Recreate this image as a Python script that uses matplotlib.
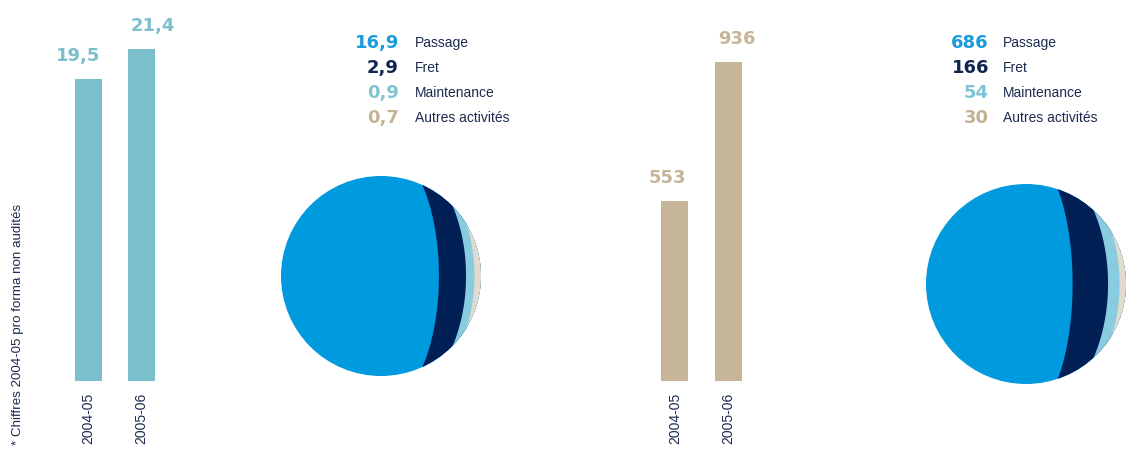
import matplotlib
matplotlib.use('Agg')
import matplotlib.pyplot as plt
import numpy as np
from matplotlib.patches import Circle, Polygon

# ---------------- data ----------------
periods_left = ['2004-05', '2005-06']
revenue = [19.5, 21.4]
periods_right = ['2004-05', '2005-06']
result = [553, 936]
segments = ['Passage', 'Fret', 'Maintenance', 'Autres activités']
revenue_split = [16.9, 2.9, 0.9, 0.7]
result_split = [686, 166, 54, 30]
footnote = '* Chiffres 2004-05 pro forma non audités'

# ---------------- style ----------------
W, H = 1127, 452
NAVY = '#1b2a4e'
TEAL = '#7bbfcc'
BEIGE = '#c6b598'
seg_text_colors = ['#1a9bdb', '#0f2550', '#7fc4d4', '#c4b295']
seg_pie_colors = ['#009bdf', '#001f54', '#8accdf', '#e3dace']
LABEL_FONT = ['Liberation Sans', 'DejaVu Sans']
NUM_FONT = ['DejaVu Sans']

fig = plt.figure(figsize=(W / 100, H / 100), dpi=100)


def ax_px(l, t, w, h):
    return fig.add_axes([l / W, 1 - (t + h) / H, w / W, h / H])


def fmt_dec(v):
    return f'{v:.1f}'.replace('.', ',')


def fmt_int(v):
    return f'{v:d}'


def bar_panel(rect, labels, values, color, ylim, fmt, offsets):
    ax = ax_px(*rect)
    x = np.arange(len(values))
    ax.bar(x, values, width=0.51, color=color)
    ax.set_xlim(-0.5, len(values) - 0.5)
    ax.set_ylim(*ylim)
    for s in ax.spines.values():
        s.set_visible(False)
    ax.set_yticks([])
    ax.set_xticks(x, labels)
    ax.tick_params(axis='x', length=0, pad=8, labelrotation=90,
                   labelsize=10, labelcolor=NAVY)
    for t in ax.get_xticklabels():
        t.set_fontfamily(LABEL_FONT)
    for xi, v, (dx, dy) in zip(x, values, offsets):
        ax.annotate(fmt(v), (xi, v), xytext=(dx * 0.72, dy * 0.72),
                    textcoords='offset points', ha='center', va='center',
                    fontsize=13, fontweight='bold', color=color,
                    family=NUM_FONT, annotation_clip=False)
    return ax


# left bars: baseline at y=382px, 15.51 px per unit
bar_panel((62, 20, 106, 362), periods_left, revenue, TEAL,
          (0, 362 / 15.51), fmt_dec, [(-10, 24), (11.5, 24)])
# right bars
bar_panel((648, 20, 107, 362), periods_right, result, BEIGE,
          (57, 57 + 362 / 0.3629), fmt_int, [(-7, 24), (8.5, 24)])


def sphere_pie(cx, cy, values, colors):
    size = 240
    ax = ax_px(cx - size / 2, cy - size / 2, size, size)
    ax.set_xlim(-1.2, 1.2)
    ax.set_ylim(-1.2, 1.2)
    ax.set_aspect('equal')
    ax.axis('off')
    total = float(sum(values))
    cum = np.cumsum(values) / total
    base = Circle((0, 0), 1.0, facecolor=colors[0], edgecolor='none')
    ax.add_patch(base)
    b = 1.3
    yy = np.linspace(-b, b, 300)
    for i in range(1, len(values)):
        a = 2 * cum[i - 1] - 1
        xs = a * np.sqrt(np.clip(1 - (yy / b) ** 2, 0, None))
        pts = np.column_stack([np.r_[xs, 2.0, 2.0], np.r_[yy, b, -b]])
        poly = Polygon(pts, closed=True, facecolor=colors[i], edgecolor='none')
        ax.add_patch(poly)
        poly.set_clip_path(base)
    return ax


sphere_pie(381, 277, revenue_split, seg_pie_colors)
sphere_pie(1026, 285, result_split, seg_pie_colors)


def legend(num_right, lab_left, values, fmt):
    ys = [43, 68, 93, 118]
    for y, v, name, c in zip(ys, values, segments, seg_text_colors):
        fig.text(num_right / W, 1 - y / H, fmt(v), ha='right', va='center',
                 fontsize=13, fontweight='bold', color=c, family=NUM_FONT)
        fig.text(lab_left / W, 1 - y / H, name, ha='left', va='center',
                 fontsize=10, color=NAVY, family=LABEL_FONT)


legend(399, 415, revenue_split, fmt_dec)
legend(989, 1003, result_split, fmt_int)

fig.text(18 / W, 1 - 445 / H, footnote, rotation=90, ha='center', va='bottom',
         fontsize=9.6, color=NAVY, family=LABEL_FONT)

fig.savefig('out.png', dpi=100, facecolor='white')
